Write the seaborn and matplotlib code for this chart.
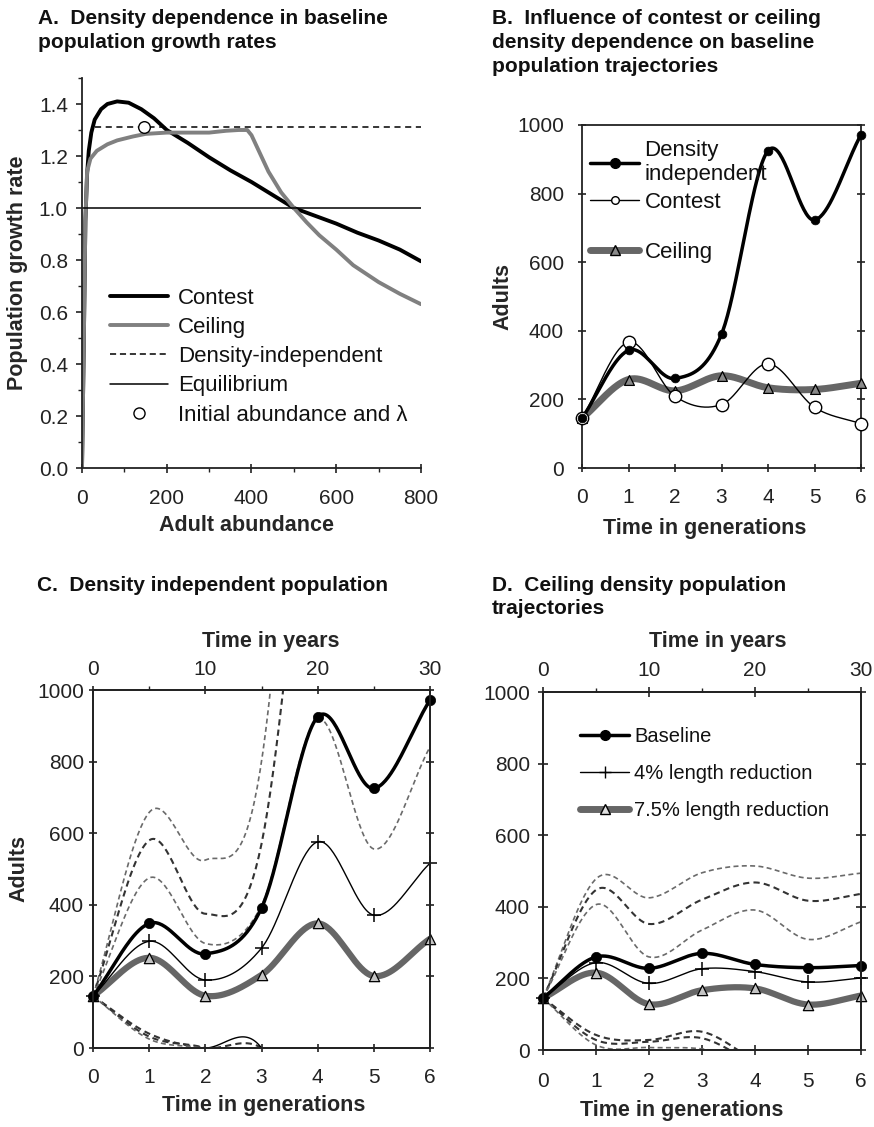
import numpy as np
import matplotlib
matplotlib.use("Agg")
import matplotlib.pyplot as plt
import seaborn as sns
from matplotlib.lines import Line2D
from matplotlib.ticker import MultipleLocator, FixedLocator, FormatStrFormatter

# ---------------- data ----------------
# Panel A : growth rate vs adult abundance
A_contest_x = [0, 4, 8, 12, 16, 22, 30, 45, 60, 83, 110, 140, 170, 200, 250, 300, 350,
               400, 450, 500, 550, 600, 650, 700, 750, 800]
A_contest_y = [0.0, 0.45, 0.95, 1.13, 1.22, 1.29, 1.34, 1.38, 1.40, 1.41, 1.405, 1.38, 1.345,
               1.30, 1.25, 1.195, 1.145, 1.10, 1.05, 1.0, 0.97, 0.94, 0.905, 0.875, 0.84, 0.795]
A_ceiling_x = [0, 4, 8, 12, 20, 35, 60, 83, 120, 150, 200, 250, 300, 340, 370, 390, 400,
               420, 440, 470, 500, 530, 560, 600, 640, 700, 750, 800]
A_ceiling_y = [0.0, 0.45, 0.95, 1.14, 1.19, 1.22, 1.245, 1.26, 1.275, 1.285, 1.29, 1.29, 1.29,
               1.297, 1.30, 1.30, 1.28, 1.21, 1.14, 1.06, 1.0, 0.945, 0.895, 0.84, 0.78,
               0.715, 0.67, 0.63]
A_densind_x = [30, 800]
A_densind_y = [1.31, 1.31]
A_equil_x = [0, 800]
A_equil_y = [1.0, 1.0]
A_init_x = [146]
A_init_y = [1.31]

# Panel B : baseline trajectories
gens = [0, 1, 2, 3, 4, 5, 6]
B_density_independent = [145, 343, 261, 390, 925, 723, 972]
B_contest = [145, 367, 209, 185, 304, 177, 129]
B_ceiling = [145, 258, 225, 269, 234, 229, 247]

# Panel C : density independent population
C_baseline = [145, 348, 263, 391, 925, 725, 972]
C_red4 = [145, 298, 190, 279, 576, 371, 516]
C_red75 = [145, 252, 146, 204, 348, 201, 305]
C_upper1 = [145, 658, 525, 800, 2600]
C_upper2 = [145, 580, 375, 570, 1900]
C_upper3 = [145, 475, 292, 398, 918, 556, 841]
C_lower1 = [145, 40, 0, 0, -200]
C_lower2 = [145, 32, 0, -60]
C_lower3 = [145, 25, -3, -60]
C_bump_gens = [2, 3, 4]
C_bump = [0, 0, -420]

# Panel D : ceiling density trajectories
D_baseline = [145, 260, 228, 270, 239, 230, 236]
D_red4 = [145, 244, 186, 227, 219, 190, 201]
D_red75 = [145, 216, 128, 167, 172, 127, 152]
D_upper1 = [145, 478, 425, 495, 514, 480, 494]
D_upper2 = [145, 447, 352, 420, 468, 417, 436]
D_upper3 = [145, 406, 260, 335, 391, 309, 358]
D_lower1 = [145, 42, 28, 51, -30]
D_lower2 = [145, 28, 23, 33, -40]
D_lower3 = [145, 14, 7, 3, -30]

year_ticks = [0, 10, 20, 30]
y_ticks_adults = [0, 200, 400, 600, 800, 1000]

# ---------------- style ----------------
sns.set_theme(style="ticks")
plt.rcParams['font.family'] = ['Liberation Sans', 'DejaVu Sans']
plt.rcParams['axes.linewidth'] = 1.3
plt.rcParams['axes.edgecolor'] = '#222222'
plt.rcParams['xtick.color'] = '#222222'
plt.rcParams['ytick.color'] = '#222222'
plt.rcParams['text.color'] = '#111111'

TICK_FS = 15
LAB_FS = 15.5
TITLE_FS = 15
GRAY = '#666666'


def smooth(x, y, n=40):
    """Excel-like smooth line (Catmull-Rom / cubic Hermite) through the points."""
    P = np.column_stack([np.asarray(x, float), np.asarray(y, float)])
    T = np.zeros_like(P)
    if len(P) > 2:
        T[1:-1] = (P[2:] - P[:-2]) / 2.0
    T[0] = P[1] - P[0]
    T[-1] = P[-1] - P[-2]
    s = np.linspace(0, 1, n)[:, None]
    h00 = 2 * s**3 - 3 * s**2 + 1
    h10 = s**3 - 2 * s**2 + s
    h01 = -2 * s**3 + 3 * s**2
    h11 = s**3 - s**2
    segs = []
    for i in range(len(P) - 1):
        seg = h00 * P[i] + h10 * T[i] + h01 * P[i + 1] + h11 * T[i + 1]
        segs.append(seg if i == 0 else seg[1:])
    out = np.vstack(segs)
    return out[:, 0], out[:, 1]


def sline(ax, x, y, **kw):
    xs, ys = smooth(x, y)
    kw.setdefault('solid_capstyle', 'round')
    ax.plot(xs, ys, **kw)


def markers(ax, x, y, marker, s, fc, ec='black', lw=1.0, z=6):
    sns.scatterplot(x=list(x), y=list(y), ax=ax, marker=marker, s=s, color=fc,
                    edgecolor=ec, linewidth=lw, legend=False, zorder=z, clip_on=False)


def px(v):
    return v * 0.72  # pixels -> points at dpi 100


fig = plt.figure(figsize=(8.74, 11.27), dpi=100)
W, H = 874.0, 1127.0


def add_ax(l, r, t, b):
    return fig.add_axes([l / W, 1 - b / H, (r - l) / W, (b - t) / H])


# ---------------- Panel A ----------------
axA = add_ax(82, 421, 78, 468)
axA.plot(A_contest_x, A_contest_y, color='black', lw=2.8, solid_capstyle='round')
axA.plot(A_ceiling_x, A_ceiling_y, color='#808080', lw=2.8, solid_capstyle='round')
axA.plot(A_densind_x, A_densind_y, color='black', lw=1.1, dashes=(4, 3))
axA.plot(A_equil_x, A_equil_y, color='black', lw=1.1)
markers(axA, A_init_x, A_init_y, 'o', 70, 'white', lw=1.0)
axA.set_xlim(0, 800)
axA.set_ylim(0, 1.5)
sns.despine(ax=axA)
axA.xaxis.set_major_locator(MultipleLocator(200))
axA.xaxis.set_minor_locator(MultipleLocator(100))
axA.yaxis.set_major_locator(FixedLocator([0, 0.2, 0.4, 0.6, 0.8, 1.0, 1.2, 1.4]))
axA.yaxis.set_minor_locator(MultipleLocator(0.1))
axA.yaxis.set_major_formatter(FormatStrFormatter('%.1f'))
axA.tick_params(axis='x', which='major', direction='inout', length=px(9), width=1.2,
                pad=px(16), labelsize=TICK_FS)
axA.tick_params(axis='x', which='minor', direction='out', length=px(4), width=1.0)
axA.tick_params(axis='y', which='major', direction='out', length=px(6), width=1.2,
                pad=px(8), labelsize=TICK_FS)
axA.tick_params(axis='y', which='minor', direction='out', length=px(4), width=1.0)
axA.set_xlabel('Adult abundance', fontsize=LAB_FS, fontweight='bold')
axA.set_ylabel('Population growth rate', fontsize=LAB_FS, fontweight='bold')
axA.xaxis.set_label_coords(0.484, -0.12)
axA.yaxis.set_label_coords(-0.16, 0.5)
hA = [Line2D([], [], color='black', lw=2.8),
      Line2D([], [], color='#808080', lw=2.8),
      Line2D([], [], color='black', lw=1.1, dashes=(4, 2.5)),
      Line2D([], [], color='black', lw=1.1),
      Line2D([], [], ls='none', marker='o', ms=8, mfc='white', mec='black', mew=1.0)]
lA = ['Contest', 'Ceiling', 'Density-independent', 'Equilibrium', 'Initial abundance and λ']
axA.legend(hA, lA, loc='upper left', bbox_to_anchor=(0.083, 0.462), frameon=False,
           borderpad=0, borderaxespad=0, handlelength=2.6, handletextpad=0.45,
           labelspacing=0.37, fontsize=16)

# ---------------- Panel B ----------------
axB = add_ax(582, 861, 125, 468)
sline(axB, gens, B_ceiling, color=GRAY, lw=5, zorder=3)
sline(axB, gens, B_contest, color='black', lw=1.0, zorder=4)
sline(axB, gens, B_density_independent, color='black', lw=2.5, zorder=5)
markers(axB, gens, B_ceiling, '^', 50, '#8a8a8a', lw=0.9)
markers(axB, gens, B_contest, 'o', 80, 'white', lw=1.0)
markers(axB, gens, B_density_independent, 'o', 40, 'black', lw=0.5, z=7)
axB.set_xlim(0, 6)
axB.set_ylim(0, 1000)
axB.set_xticks(gens)
axB.set_yticks(y_ticks_adults)
axB.tick_params(axis='both', which='major', direction='inout', length=px(8), width=1.2,
                labelsize=TICK_FS)
axB.tick_params(axis='y', right=True, labelright=False, pad=px(14))
axB.tick_params(axis='x', pad=px(16))
axB.set_xlabel('Time in generations', fontsize=LAB_FS, fontweight='bold')
axB.set_ylabel('Adults', fontsize=LAB_FS, fontweight='bold')
axB.xaxis.set_label_coords(0.44, -0.145)
axB.yaxis.set_label_coords(-0.245, 0.5)
hB1 = [Line2D([], [], color='black', lw=2.5, marker='o', ms=7, mfc='black', mec='black'),
       Line2D([], [], color='black', lw=1.0, marker='o', ms=5.5, mfc='white', mec='black')]
legB1 = axB.legend(hB1, ['Density\nindependent', 'Contest'], loc='upper left',
                   bbox_to_anchor=(0.029, 0.956), frameon=False, borderpad=0, borderaxespad=0,
                   handlelength=2.2, handletextpad=0.25, labelspacing=0.3, fontsize=16)
axB.add_artist(legB1)
hB2 = [Line2D([], [], color=GRAY, lw=5, marker='^', ms=6.5, mfc='#8a8a8a', mec='black')]
axB.legend(hB2, ['Ceiling'], loc='upper left', bbox_to_anchor=(0.029, 0.66), frameon=False,
           borderpad=0, borderaxespad=0, handlelength=2.2, handletextpad=0.25, fontsize=16)

# ---------------- Panel C ----------------
axC = add_ax(93, 430, 690, 1048)
dash_l = dict(color='#6a6a6a', lw=1.2, dashes=(3, 2))
dash_d = dict(color='#333333', lw=1.5, dashes=(3, 2))
sline(axC, gens[:len(C_upper1)], C_upper1, zorder=2, **dash_l)
sline(axC, gens[:len(C_upper2)], C_upper2, zorder=2, **dash_d)
sline(axC, gens, C_upper3, zorder=2, **dash_l)
sline(axC, gens[:len(C_lower1)], C_lower1, zorder=2, **dash_d)
sline(axC, gens[:len(C_lower2)], C_lower2, zorder=2, **dash_d)
sline(axC, gens[:len(C_lower3)], C_lower3, zorder=2, **dash_l)
sline(axC, C_bump_gens, C_bump, color='black', lw=1.0, zorder=2)
sline(axC, gens, C_red75, color=GRAY, lw=4.5, zorder=3)
sline(axC, gens, C_red4, color='black', lw=1.0, zorder=4)
sline(axC, gens, C_baseline, color='black', lw=2.5, zorder=5)
markers(axC, gens, C_red75, '^', 55, '#c4c4c4', lw=0.9)
markers(axC, gens, C_red4, '+', 90, 'black', lw=1.1)
markers(axC, gens, C_baseline, 'o', 55, 'black', lw=0.5, z=7)
axC.set_xlim(0, 6)
axC.set_ylim(0, 1000)
axC.set_xticks(gens)
axC.set_yticks(y_ticks_adults)
axC.tick_params(axis='both', which='major', direction='inout', length=px(8), width=1.2,
                labelsize=TICK_FS)
axC.tick_params(axis='y', right=True, labelright=False, pad=px(5))
axC.tick_params(axis='x', pad=px(16))
axC.set_xlabel('Time in generations', fontsize=LAB_FS, fontweight='bold')
axC.set_ylabel('Adults', fontsize=LAB_FS, fontweight='bold')
axC.xaxis.set_label_coords(0.507, -0.13)
axC.yaxis.set_label_coords(-0.19, 0.5)
axCt = axC.twiny()
axCt.set_xlim(0, 30)
axCt.set_xticks(year_ticks)
axCt.xaxis.set_minor_locator(MultipleLocator(5))
axCt.tick_params(axis='x', which='major', direction='inout', length=px(8), width=1.2,
                 labelsize=TICK_FS, pad=px(7))
axCt.tick_params(axis='x', which='minor', direction='out', length=px(4), width=1.0)
axCt.set_xlabel('Time in years', fontsize=LAB_FS, fontweight='bold')
axCt.xaxis.set_label_coords(0.528, 1.12)

# ---------------- Panel D ----------------
axD = add_ax(543, 861, 692, 1050)
sline(axD, gens, D_upper1, zorder=2, **dash_l)
sline(axD, gens, D_upper2, zorder=2, **dash_d)
sline(axD, gens, D_upper3, zorder=2, **dash_l)
sline(axD, gens[:len(D_lower1)], D_lower1, zorder=2, **dash_d)
sline(axD, gens[:len(D_lower2)], D_lower2, zorder=2, **dash_d)
sline(axD, gens[:len(D_lower3)], D_lower3, zorder=2, **dash_l)
sline(axD, gens, D_red75, color=GRAY, lw=4.5, zorder=3)
sline(axD, gens, D_red4, color='black', lw=1.0, zorder=4)
sline(axD, gens, D_baseline, color='black', lw=2.5, zorder=5)
markers(axD, gens, D_red75, '^', 55, '#c4c4c4', lw=0.9)
markers(axD, gens, D_red4, '+', 90, 'black', lw=1.1)
markers(axD, gens, D_baseline, 'o', 55, 'black', lw=0.5, z=7)
axD.set_xlim(0, 6)
axD.set_ylim(0, 1000)
axD.set_xticks(gens)
axD.set_yticks(y_ticks_adults)
axD.tick_params(axis='both', which='major', direction='inout', length=px(10), width=1.2,
                labelsize=TICK_FS)
axD.tick_params(axis='y', right=True, labelright=False, pad=px(8))
axD.tick_params(axis='x', pad=px(17))
axD.set_xlabel('Time in generations', fontsize=LAB_FS, fontweight='bold')
axD.xaxis.set_label_coords(0.437, -0.14)
axDt = axD.twiny()
axDt.set_xlim(0, 30)
axDt.set_xticks(year_ticks)
axDt.xaxis.set_minor_locator(MultipleLocator(5))
axDt.tick_params(axis='x', which='major', direction='inout', length=px(10), width=1.2,
                 labelsize=TICK_FS, pad=px(7))
axDt.tick_params(axis='x', which='minor', direction='out', length=px(4), width=1.0)
axDt.set_xlabel('Time in years', fontsize=LAB_FS, fontweight='bold')
axDt.xaxis.set_label_coords(0.55, 1.125)
hD = [Line2D([], [], color='black', lw=2.5, marker='o', ms=7, mfc='black', mec='black'),
      Line2D([], [], color='black', lw=1.0, marker='+', ms=8, mec='black', mew=1.0),
      Line2D([], [], color=GRAY, lw=5, marker='^', ms=7, mfc='#e0e0e0', mec='black')]
axD.legend(hD, ['Baseline', '4% length reduction', '7.5% length reduction'], loc='upper left',
           bbox_to_anchor=(0.116, 0.903), frameon=False, borderpad=0, borderaxespad=0,
           handlelength=2.45, handletextpad=0.26, labelspacing=0.91, fontsize=14.5)

# ---------------- titles ----------------
fig.text(38 / W, 1 - 9 / H, 'A.  Density dependence in baseline\npopulation growth rates',
         fontsize=TITLE_FS, fontweight='bold', ha='left', va='top', linespacing=1.32)
fig.text(492 / W, 1 - 9 / H,
         'B.  Influence of contest or ceiling\ndensity dependence on baseline\npopulation trajectories',
         fontsize=TITLE_FS, fontweight='bold', ha='left', va='top', linespacing=1.32)
fig.text(37 / W, 1 - 576 / H, 'C.  Density independent population',
         fontsize=TITLE_FS, fontweight='bold', ha='left', va='top', linespacing=1.32)
fig.text(492 / W, 1 - 576 / H, 'D.  Ceiling density population\ntrajectories',
         fontsize=TITLE_FS, fontweight='bold', ha='left', va='top', linespacing=1.3)

fig.savefig('out.png', dpi=100, facecolor='white')
